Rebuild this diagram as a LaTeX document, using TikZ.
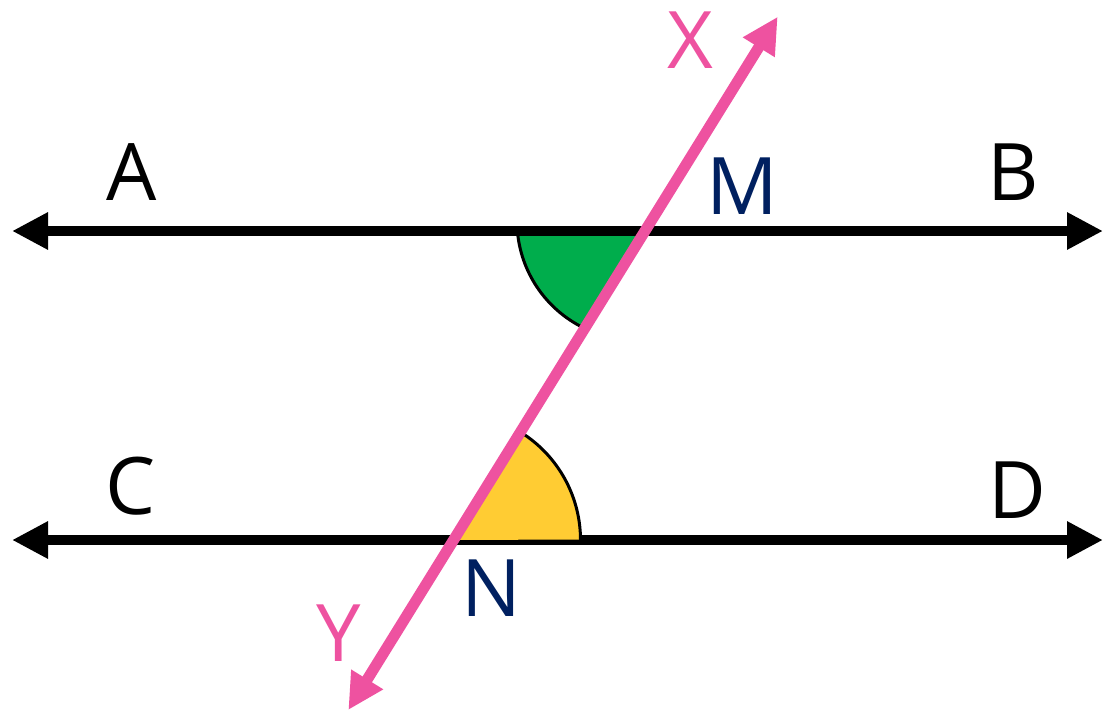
\documentclass[tikz,border=0pt]{standalone}
\usepackage{fontspec}
\setmainfont{Open Sans}
\usetikzlibrary{arrows.meta}
\definecolor{pinkx}{RGB}{238,82,160}
\definecolor{greena}{RGB}{0,173,76}
\definecolor{yellowa}{RGB}{255,204,51}
\definecolor{navy}{RGB}{0,32,96}
\tikzset{
  blackline/.style={line width=10.5pt, {Triangle[length=36pt,width=35pt]}-{Triangle[length=36pt,width=35pt]}},
  pinkline/.style={pinkx, line width=11pt, {Triangle[length=36pt,width=35pt]}-{Triangle[length=36pt,width=35pt]}},
  arcline/.style={line width=3pt, line cap=round},
  lbl/.style={inner sep=0pt, anchor=center, font=\fontsize{79.4}{90}\selectfont},
}
\begin{document}
\begin{tikzpicture}[x=1pt,y=-1pt]
\useasboundingbox (0,0) rectangle (1104,712);
% end points
\coordinate (ABl) at (12,231);
\coordinate (ABr) at (1103,231);
\coordinate (CDl) at (12,540);
\coordinate (CDr) at (1103,540);
\coordinate (Yt) at (348.3,710);
\coordinate (Xt) at (777.7,16.7);
\coordinate (M) at (644.2,231);
\coordinate (N) at (453.5,540);
% green angle
\fill[greena] (517.8,235.1) arc[start angle=173.2, end angle=116.6, radius=119] -- (M) -- (517.8,231) -- cycle;
% black lines
\draw[blackline] (ABl) -- (ABr);
\draw[blackline] (CDl) -- (CDr);
% yellow angle
\fill[yellowa] (N) -- (580.5,539.5) arc[start angle=0, end angle=-58.2, radius=127] -- cycle;
% arc outlines
\draw[arcline] (517.8,235.1) arc[start angle=173.2, end angle=116.6, radius=119];
\draw[arcline] (580.5,540) arc[start angle=0, end angle=-58.2, radius=127];
% transversal
\draw[pinkline] (Yt) -- (Xt);
% labels
\node[lbl] (A) at (132,171.7) {A};
\node[lbl] (B) at (1013,172.5) {B};
\node[lbl] (C) at (131,486.5) {C};
\node[lbl] (D) at (1017.5,489.7) {D};
\node[lbl, text=navy] (Ml) at (742.5,186) {M};
\node[lbl, text=navy] (Nl) at (491,588.3) {N};
\node[lbl, text=pinkx] (X) at (690.5,39.7) {X};
\node[lbl, text=pinkx] (Y) at (339,633.5) {Y};
\end{tikzpicture}
\end{document}
